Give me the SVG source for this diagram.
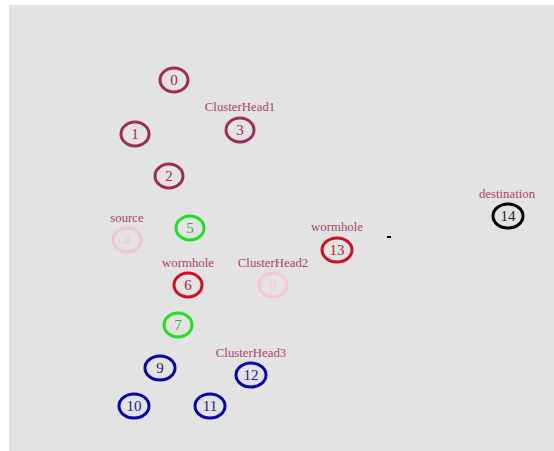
<svg xmlns="http://www.w3.org/2000/svg" width="554" height="451" viewBox="0 0 554 451">
<style>
.n ellipse{fill:none;stroke-width:3}
.n text{font-family:"Liberation Serif",serif;font-size:15px;text-anchor:middle}
.lbl{font-family:"Liberation Serif",serif;font-size:12.8px;text-anchor:middle;fill:#a8456e}
.m ellipse{stroke:#9c2c5a}.m text{fill:#9c2c5a}
.p ellipse{stroke:#f5c6d0}.p text{fill:#f5c6d0}
.g ellipse{stroke:#1ee01e}.g text{fill:#3aa83a}
.r ellipse{stroke:#d01020}.r text{fill:#b82030}
.b ellipse{stroke:#0808a8}.b text{fill:#20208a}
.k ellipse{stroke:#000}.k text{fill:#222}
</style>
<rect x="0" y="0" width="554" height="451" fill="#fff"/>
<rect x="9" y="5" width="545" height="446" fill="#e3e3e3"/>
<g id="labels">
<text class="lbl" x="240" y="111">ClusterHead1</text>
<text class="lbl" x="127" y="222">source</text>
<text class="lbl" x="188" y="267">wormhole</text>
<text class="lbl" x="273" y="267">ClusterHead2</text>
<text class="lbl" x="337" y="231">wormhole</text>
<text class="lbl" x="507" y="198">destination</text>
<text class="lbl" x="251" y="357">ClusterHead3</text>
</g>
<g id="connectors">
<line x1="387" y1="237" x2="391" y2="237" stroke="#000" stroke-width="2"/>
</g>
<g id="node0" class="n m"><ellipse cx="174" cy="80" rx="14" ry="12"/><text x="174" y="85">0</text></g>
<g id="node1" class="n m"><ellipse cx="135" cy="134" rx="14" ry="12"/><text x="135" y="139">1</text></g>
<g id="node2" class="n m"><ellipse cx="169" cy="176" rx="14" ry="12"/><text x="169" y="181">2</text></g>
<g id="node3" class="n m"><ellipse cx="240" cy="130" rx="14" ry="12"/><text x="240" y="135">3</text></g>
<g id="node4" class="n p"><ellipse cx="127" cy="240" rx="14" ry="12"/><text x="127" y="245">4</text></g>
<g id="node5" class="n g"><ellipse cx="190" cy="228" rx="14" ry="12"/><text x="190" y="233">5</text></g>
<g id="node6" class="n r"><ellipse cx="188" cy="285" rx="14" ry="12"/><text x="188" y="290">6</text></g>
<g id="node7" class="n g"><ellipse cx="178" cy="325" rx="14" ry="12"/><text x="178" y="330">7</text></g>
<g id="node8" class="n p"><ellipse cx="273" cy="285" rx="14" ry="12"/><text x="273" y="290">8</text></g>
<g id="node9" class="n b"><ellipse cx="160" cy="368" rx="15" ry="12"/><text x="160" y="373">9</text></g>
<g id="node10" class="n b"><ellipse cx="134" cy="406" rx="15" ry="12"/><text x="134" y="411">10</text></g>
<g id="node11" class="n b"><ellipse cx="210" cy="406" rx="15" ry="12"/><text x="210" y="411">11</text></g>
<g id="node12" class="n b"><ellipse cx="251" cy="375" rx="15" ry="12"/><text x="251" y="380">12</text></g>
<g id="node13" class="n r"><ellipse cx="337" cy="250" rx="15" ry="12"/><text x="337" y="255">13</text></g>
<g id="node14" class="n k"><ellipse cx="508" cy="216" rx="15" ry="12"/><text x="508" y="221">14</text></g>
</svg>
